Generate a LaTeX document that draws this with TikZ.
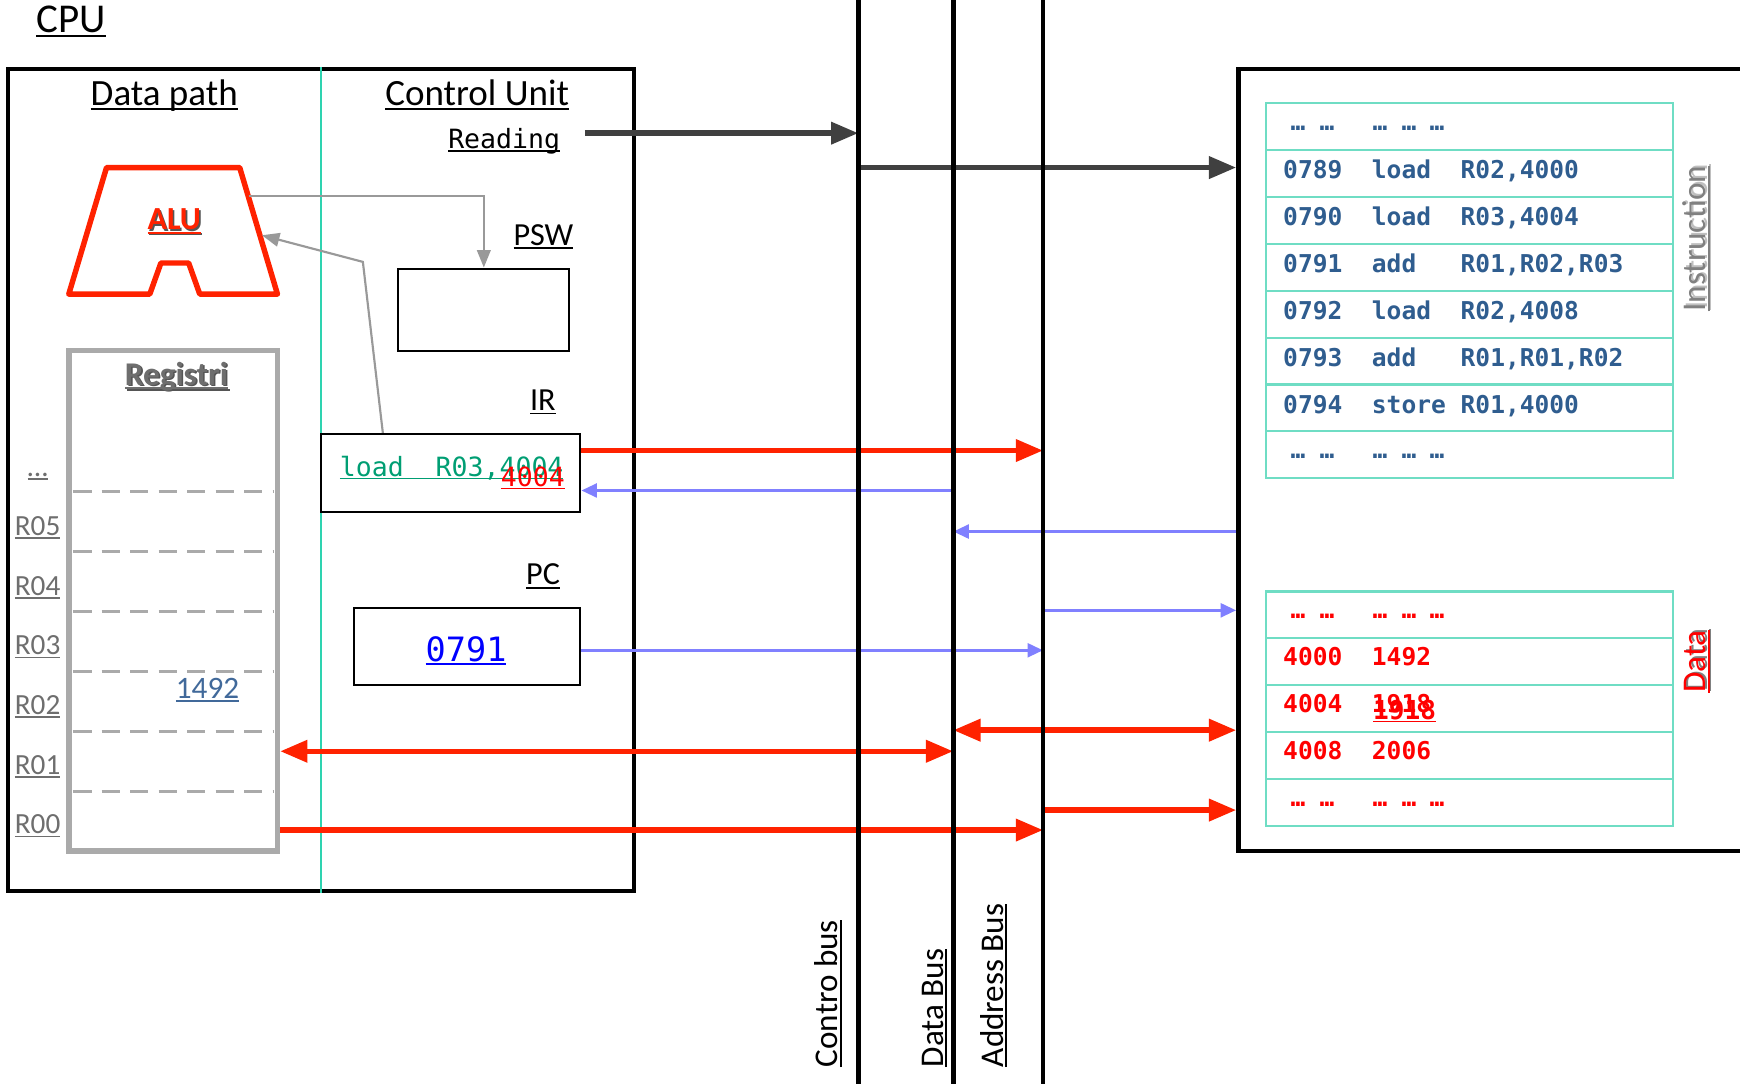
\documentclass[tikz,border=0pt]{standalone}
\usepackage{fontspec}
\setmainfont{Carlito}
\setmonofont{DejaVu Sans Mono}
\usetikzlibrary{arrows.meta,calc,positioning}
\definecolor{arred}{HTML}{FF2200}
\definecolor{arblue}{HTML}{8080FF}
\definecolor{ardark}{HTML}{404040}
\definecolor{lngray}{HTML}{999999}
\definecolor{reggray}{HTML}{AAAAAA}
\definecolor{divteal}{HTML}{2ED3B0}
\definecolor{tblteal}{HTML}{6FDDC4}
\definecolor{insblue}{HTML}{2F5D8F}
\definecolor{valblue}{HTML}{41699A}
\definecolor{irgreen}{HTML}{009E73}
\definecolor{pcblue}{HTML}{0000FF}
\definecolor{labgray}{HTML}{6E6E6E}
\definecolor{shadowgray}{HTML}{555555}

% underline at a fixed depth, and a soft text shadow
\newcommand\uln[1]{\setbox0=\hbox{#1}\rlap{\rule[-0.12em]{\wd0}{0.06em}}\box0}
\newcommand\shd[2]{\rlap{\kern0.05em\raisebox{-0.05em}{\color{#1}#2}}#2}

\begin{document}
\begin{tikzpicture}[x=0.02cm,y=-0.02cm,
  txt/.style={inner sep=0pt,font=\fontsize{16.5}{19}\selectfont},
  head/.style={inner sep=0pt,font=\fontsize{19}{22}\selectfont},
  mono/.style={inner sep=0pt,font=\fontsize{13.6}{16}\selectfont\ttfamily},
  tbl/.style={inner sep=0pt,font=\fontsize{12.6}{15}\selectfont\ttfamily\bfseries},
  box/.style={draw,line width=1pt,inner sep=0pt},
  bus/.style={line width=2.4pt},
  tline/.style={tblteal,line width=1.1pt},
  redarr/.style={arred,line width=2.8pt,-{Triangle[length=14pt,width=11pt]}},
  redboth/.style={arred,line width=2.8pt,{Triangle[length=14pt,width=11pt]}-{Triangle[length=14pt,width=11pt]}},
  bluearr/.style={arblue,line width=1.7pt,-{Triangle[length=8pt,width=7pt]}},
  darkarr/.style={ardark,line width=2.8pt,-{Triangle[length=14pt,width=11pt]}},
  grayarr/.style={lngray,line width=1.1pt,-{Triangle[length=9pt,width=7pt]}}]
  \useasboundingbox (0,0) rectangle (1568,976);
  \clip (0,0) rectangle (1568,976);

  % CPU
  \node[head,anchor=base,font=\fontsize{21}{24}\selectfont] (cputitle) at (64,29) {\uln{CPU}};
  \node[draw,line width=2pt,minimum width=11.28cm,minimum height=14.82cm,inner sep=0pt] (cpu) at (289,432.5) {};
  \draw[divteal,line width=0.9pt] (cpu.north -| 289,0) -- (cpu.south -| 289,0);
  \node[head,anchor=base] (dpath) at (148,95) {\uln{Data path}};
  \node[head,anchor=base] (cunit) at (430,95) {\uln{Control Unit}};
  \node[mono,anchor=base east] (reading) at (505,134) {\uln{Reading}};

  % ALU
  \draw[arred,line width=2.8pt,line join=round] (96,151) -- (216,151) -- (250,265) -- (180,265)
    -- (170,237) -- (145,237) -- (135,265) -- (62,265) -- cycle;
  \node[txt,anchor=base,font=\fontsize{16.5}{19}\selectfont\bfseries,text=arred] (alu) at (157,207) {\shd{shadowgray}{\uln{ALU}}};
  \coordinate (aluout) at (224,177);
  \coordinate (aluin) at (236,212);

  % registers
  \node[draw=reggray,line width=2.8pt,minimum width=3.76cm,minimum height=9.02cm,inner sep=0pt] (regs) at (156,541.5) {};
  \node[txt,anchor=base,font=\fontsize{17}{19}\selectfont\bfseries,text=labgray] (regtitle) at (159,347) {\shd{shadowgray}{\uln{Registri}}};
  \foreach \y in {443,497,551,605,659,713}
    \draw[reggray,line width=1.4pt,dash pattern=on 9.4pt off 5.2pt] (66,\y) -- (246,\y);
  \foreach \r [count=\k from 0] in {05,04,03,02,01,00}
    \node[txt,font=\fontsize{15}{18}\selectfont,text=labgray,anchor=base west] (r\r) at (13,{482.5+53.8*\k}) {\uln{R\r}};
  \node[txt,font=\fontsize{15}{18}\selectfont,text=labgray,anchor=base] (rdots) at (34,429) {\uln{…}};
  \node[txt,font=\fontsize{16}{19}\selectfont,text=valblue,anchor=base] (rval) at (187,629) {\uln{1492}};

  % control unit registers
  \node[txt,anchor=base east] (pswlab) at (517,221) {\uln{PSW}};
  \node[box,minimum width=3.08cm,minimum height=1.48cm] (psw) at (436,279) {};
  \node[txt,anchor=base east] (irlab) at (501,370) {\uln{IR}};
  \node[box,minimum width=4.68cm,minimum height=1.4cm] (ir) at (406,426) {};
  \node[mono,text=irgreen,anchor=base west] (irtxt) at (306,429) {\uln{load~~R03,4004}};
  \node[mono,text=red,anchor=base west] (irnew) at (451,438) {\uln{4004}};
  \node[txt,anchor=base east] (pclab) at (505,527) {\uln{PC}};
  \node[box,minimum width=4.08cm,minimum height=1.38cm] (pc) at (421,582.5) {};
  \node[mono,font=\fontsize{17.2}{20}\selectfont\ttfamily,text=pcblue,anchor=base] (pcval) at (420,596) {\uln{0791}};

  \draw[grayarr] (aluout) -| (psw.north);
  \draw[grayarr] (ir.north -| 345,0) -- (327,236) -- (aluin);

  % memory
  \node[draw,line width=2.3pt,minimum width=9.68cm,minimum height=14.1cm,inner sep=0pt] (mem) at (1358,414.5) {};
  \node[draw=tblteal,line width=1.1pt,minimum width=7.34cm,minimum height=6.76cm,inner sep=0pt] (instr) at (1324.5,262) {};
  \foreach \i in {1,...,7}
    \draw[tline] (1141,{93+42.25*\i}) -- (1508,{93+42.25*\i});
  \foreach \t [count=\k from 0] in {{0789~~load~~R02,4000},{0790~~load~~R03,4004},{0791~~add~~~R01,R02,R03},
      {0792~~load~~R02,4008},{0793~~add~~~R01,R01,R02},{0794~~store~R01,4000}}
    \node[tbl,text=insblue,anchor=base west] (ins\k) at (1156,{160.7+42.3*\k}) {\t};
  \node[draw=tblteal,line width=1.1pt,minimum width=7.34cm,minimum height=4.22cm,inner sep=0pt] (dat) at (1324.5,638.5) {};
  \foreach \i in {1,...,4}
    \draw[tline] (1141,{533+42.2*\i}) -- (1508,{533+42.2*\i});
  \foreach \t [count=\k from 0] in {4000~~1492,4004~~1918,4008~~2006}
    \node[tbl,text=red,anchor=base west] (dv\k) at (1156,{600+42*\k}) {\t};
  \node[tbl,font=\fontsize{13.4}{15}\selectfont\ttfamily\bfseries,text=red,anchor=base west] (dnew) at (1237,648) {\uln{1918}};
  \foreach \x [count=\k] in {1169.6,1195.8,1243.5,1269.7,1295} {
    \node[tbl,text=insblue,anchor=base] (itop\k) at (\x,117.5) {…};
    \node[tbl,text=insblue,anchor=base] (ibot\k) at (\x,413.5) {…};
    \node[tbl,text=red,anchor=base] (dtop\k) at (\x,557) {…};
    \node[tbl,text=red,anchor=base] (dbot\k) at (\x,726.5) {…};
  }
  \node[txt,font=\fontsize{17}{20}\selectfont,text=gray,rotate=90,anchor=base west] (inslab) at (1537,281) {\shd{lightgray}{\uln{Instruction}}};
  \node[txt,font=\fontsize{17}{20}\selectfont,text=red,rotate=90,anchor=base west] (datlab) at (1537,624.6) {\shd{gray}{\uln{Data}}};

  % buses
  \coordinate (ctrlbus) at (773.5,0);
  \coordinate (databus) at (859,0);
  \coordinate (addrbus) at (940,0);
  \coordinate (rdout) at (527,120);

  \draw[darkarr] (rdout) -- (ctrlbus |- 0,120);
  \draw[darkarr] (ctrlbus |- 0,151) -- (mem.west |- 0,151);
  \draw[redarr] (ir.east |- 0,406) -- (addrbus |- 0,406);
  \draw[bluearr] (databus |- 0,442) -- (ir.east |- 0,442);
  \draw[bluearr] (mem.west |- 0,479) -- (databus |- 0,479);
  \draw[bluearr] (addrbus |- 0,550) -- (mem.west |- 0,550);
  \draw[bluearr] (pc.east |- 0,586) -- (addrbus |- 0,586);
  \draw[redboth] (databus |- 0,658) -- (mem.west |- 0,658);
  \draw[redboth] (regs.east |- 0,677) -- (databus |- 0,677);
  \draw[redarr] (addrbus |- 0,730) -- (mem.west |- 0,730);
  \draw[redarr] (regs.east |- 0,748) -- (addrbus |- 0,748);

  \foreach \b in {ctrlbus,databus,addrbus}
    \draw[bus] (\b |- 0,-5) -- (\b |- 0,985);
  \node[txt,font=\fontsize{17}{20}\selectfont,rotate=90,anchor=base west] (cblab) at (755,962) {\uln{Contro bus}};
  \node[txt,font=\fontsize{17}{20}\selectfont,rotate=90,anchor=base west] (dblab) at (850,962) {\uln{Data Bus}};
  \node[txt,font=\fontsize{17}{20}\selectfont,rotate=90,anchor=base west] (ablab) at (904,962) {\uln{Address Bus}};
\end{tikzpicture}
\end{document}
